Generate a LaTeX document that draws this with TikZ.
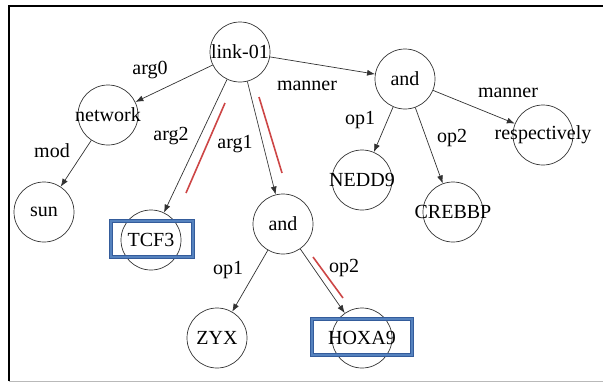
\documentclass[tikz,border=0pt]{standalone}
\usepackage{fontspec}
\setmainfont{Liberation Serif}
\newfontfamily\tnr{Liberation Serif}
\usetikzlibrary{arrows.meta}
\definecolor{boxblue}{RGB}{52,92,155}
\definecolor{boxlight}{RGB}{85,130,190}
\definecolor{hlred}{RGB}{205,70,70}
\definecolor{circ}{RGB}{50,50,50}
\tikzset{
  txt/.style={font=\tnr\fontsize{20}{22}\selectfont},
  nd/.style={circle, draw=circ, line width=0.7pt, minimum size=60pt, inner sep=0pt},
  edge/.style={draw=circ, line width=0.7pt, -{Latex[length=8pt,width=6pt]}},
  elab/.style={txt, inner sep=0pt},
  hbox/.style={draw=boxblue, line width=1.1pt, double=boxlight, double distance=2.2pt, inner sep=0pt},
  hl/.style={draw=hlred, line width=1.6pt}}
\begin{document}
\begin{tikzpicture}[x=1pt,y=-1pt,
  every label/.style={txt, inner sep=0pt}]
\useasboundingbox (0,0) rectangle (603,383);
% frame
\draw[line width=2pt] (9,381) -- (9,6) -- (603,6);
\draw[gray!55, line width=1.2pt] (9,381.5) -- (603,381.5);
% nodes
\node[nd, label=center:link-01] (link) at (240,52) {};
\node[nd, label=center:network] (net) at (108,115) {};
\node[nd, label=center:sun] (sun) at (44,212) {};
\node[nd, label=center:TCF3] (tcf) at (151,240) {};
\node[nd, label=center:and] (andm) at (283,224) {};
\node[nd, label=center:ZYX] (zyx) at (217,338) {};
\node[nd, label=center:HOXA9] (hox) at (362,338) {};
\node[nd, label=center:and] (andr) at (405,79) {};
\node[nd, label=center:respectively] (resp) at (543,135) {};
\node[nd, label=center:NEDD9] (nedd) at (362,180) {};
\node[nd, label=center:CREBBP] (creb) at (453,212) {};
% highlight boxes
\node[hbox, minimum width=82pt, minimum height=36pt] (tcfbox) at (152,239) {};
\node[hbox, minimum width=100pt, minimum height=36pt] (hoxbox) at (362,337) {};
% edges
\draw[edge] (link) -- (net);
\draw[edge] (link) -- (tcf);
\draw[edge] (link) -- (andm);
\draw[edge] (link) -- (andr);
\draw[edge] (net) -- (sun);
\draw[edge] (andm) -- (zyx);
\draw[edge] (andm) -- (hox);
\draw[edge] (andr) -- (nedd);
\draw[edge] (andr) -- (creb);
\draw[edge] (andr) -- (resp);
% edge labels
\node[elab] (l1) at (150,70) {arg0};
\node[elab] (l2) at (171,136) {arg2};
\node[elab] (l3) at (235,144) {arg1};
\node[elab] (l4) at (52,151) {mod};
\node[elab] (l5) at (307,86) {manner};
\node[elab] (l6) at (508,93) {manner};
\node[elab] (l7) at (360,120) {op1};
\node[elab] (l8) at (452,138) {op2};
\node[elab] (l9) at (228,270) {op1};
\node[elab] (l10) at (344,268) {op2};
% red highlight strokes
\draw[hl] (225,103) -- (186,193);
\draw[hl] (259,97) -- (282,173);
\draw[hl] (313,257) -- (343,298);
\end{tikzpicture}
\end{document}
